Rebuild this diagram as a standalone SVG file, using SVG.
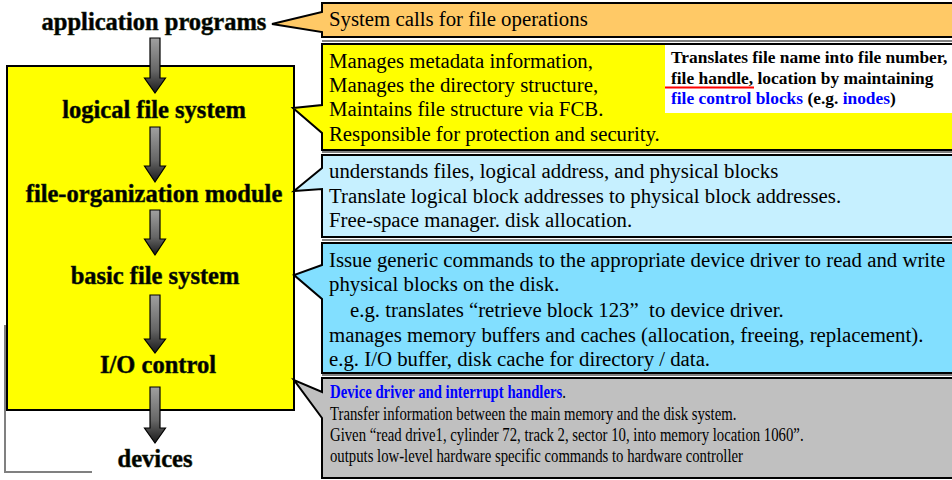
<svg xmlns="http://www.w3.org/2000/svg" width="952" height="480" viewBox="0 0 952 480">
<style>
.lbl{font-family:"Liberation Serif","Times New Roman",serif;font-weight:bold;font-size:24.5px;fill:#000;stroke:#1a2a10;stroke-width:0.5;text-anchor:middle}
.t{font-family:"Liberation Serif","Times New Roman",serif;font-size:20.8px;fill:#000}
.t5{font-family:"Liberation Serif","Times New Roman",serif;font-size:18px;fill:#000}
.tb{font-family:"Liberation Serif","Times New Roman",serif;font-size:17.4px;font-weight:bold;fill:#000}
.blue{fill:#0000FF}
.co{stroke:#000;stroke-width:2;stroke-linejoin:miter}
.dbl{stroke:#000;stroke-width:1}
.arr{fill:url(#ag);stroke:#000;stroke-width:1.2}
</style>
<defs>
<linearGradient id="ag" x1="0" y1="0" x2="0" y2="1">
<stop offset="0" stop-color="#a0a0a0"/>
<stop offset="0.6" stop-color="#666"/>
<stop offset="1" stop-color="#1a1a1a"/>
</linearGradient>
</defs>

<g id="layers">
<rect x="7" y="66" width="287" height="344" fill="#FFFF00" stroke="#000" stroke-width="2"/>
</g>

<g id="connectors">
<path class="arr" d="M150,38 H160 V78 H165.5 L155,93 L144.5,78 H150 Z"/>
<path class="arr" d="M150,127 H160 V166 H165.5 L155,182 L144.5,166 H150 Z"/>
<path class="arr" d="M150,210 H160 V239 H165.5 L155,255 L144.5,239 H150 Z"/>
<path class="arr" d="M150,295 H160 V339 H165.5 L155,353 L144.5,339 H150 Z"/>
<path class="arr" d="M150,387 H160 V428 H165.5 L155,443 L144.5,428 H150 Z"/>
<path d="M92,472 H5 V325" fill="none" stroke="#808080" stroke-width="2"/>
</g>

<g id="label-app"><text class="lbl" x="154" y="30">application programs</text></g>
<g id="label-logical"><text class="lbl" x="154" y="118">logical file system</text></g>
<g id="label-fileorg"><text class="lbl" x="154" y="202">file-organization module</text></g>
<g id="label-basic"><text class="lbl" x="155" y="284">basic file system</text></g>
<g id="label-io"><text class="lbl" x="158" y="373">I/O control</text></g>
<g id="label-devices"><text class="lbl" x="155" y="467">devices</text></g>

<g id="callout-syscalls">
<path class="co" fill="#FFC966" d="M322,3 H956 V37 H322 V32 L272,24 L322,12 Z"/>
<text class="t" x="329" y="26">System calls for file operations</text>
</g>

<g id="callout-logical">
<line class="dbl" x1="322" y1="41" x2="952" y2="41"/>
<path class="co" fill="#FFFF00" d="M322,44 H956 V150 H322 V133 L293,108 L322,105 Z"/>
<text class="t" x="329" y="68">Manages metadata information,</text>
<text class="t" x="329" y="92">Manages the directory structure,</text>
<text class="t" x="329" y="116">Maintains file structure via FCB.</text>
<text class="t" x="329" y="141">Responsible for protection and security.</text>
<rect x="665" y="45" width="287" height="68" fill="#FFFFFF"/>
<text class="tb" x="671" y="63">Translates file name into file number,</text>
<text class="tb" x="671" y="84">file handle, location by maintaining</text>
<line x1="665" y1="87.5" x2="754" y2="87.5" stroke="#FF0000" stroke-width="2"/>
<text class="tb" x="671" y="104"><tspan class="blue">file control blocks</tspan> (e.g. <tspan class="blue">inodes</tspan>)</text>
</g>

<g id="callout-fileorg">
<line class="dbl" x1="322" y1="152" x2="952" y2="152"/>
<path class="co" fill="#C6F0FF" d="M322,155 H956 V237 H322 V189 L294,191 L322,168 Z"/>
<text class="t" x="329" y="178">understands files, logical address, and physical blocks</text>
<text class="t" x="329" y="203">Translate logical block addresses to physical block addresses.</text>
<text class="t" x="329" y="227">Free-space manager. disk allocation.</text>
</g>

<g id="callout-basic">
<line class="dbl" x1="322" y1="240" x2="952" y2="240"/>
<path class="co" fill="#82DFFF" d="M322,243 H956 V373 H322 V299 L294,275 L322,265 Z"/>
<text class="t" x="329" y="267">Issue generic commands to the appropriate device driver to read and write</text>
<text class="t" x="329" y="291">physical blocks on the disk.</text>
<text class="t" x="350" y="317" xml:space="preserve">e.g. translates “retrieve block 123”  to device driver.</text>
<text class="t" x="329" y="342">manages memory buffers and caches (allocation, freeing, replacement).</text>
<text class="t" x="329" y="366">e.g. I/O buffer, disk cache for directory / data.</text>
</g>

<g id="callout-io">
<line class="dbl" x1="322" y1="375" x2="952" y2="375"/>
<path class="co" fill="#C0C0C0" d="M322,378 H956 V478 H322 V418 L294,380 L322,392 Z"/>
<g transform="translate(330,0) scale(0.82,1)">
<text class="t5" x="0" y="398"><tspan class="blue" font-weight="bold">Device driver and interrupt handlers</tspan>.</text>
<text class="t5" x="0" y="420">Transfer information between the main memory and the disk system.</text>
<text class="t5" x="0" y="441">Given “read drive1, cylinder 72, track 2, sector 10, into memory location 1060”.</text>
<text class="t5" x="0" y="462">outputs low-level hardware specific commands to hardware controller</text>
</g>
</g>
</svg>
